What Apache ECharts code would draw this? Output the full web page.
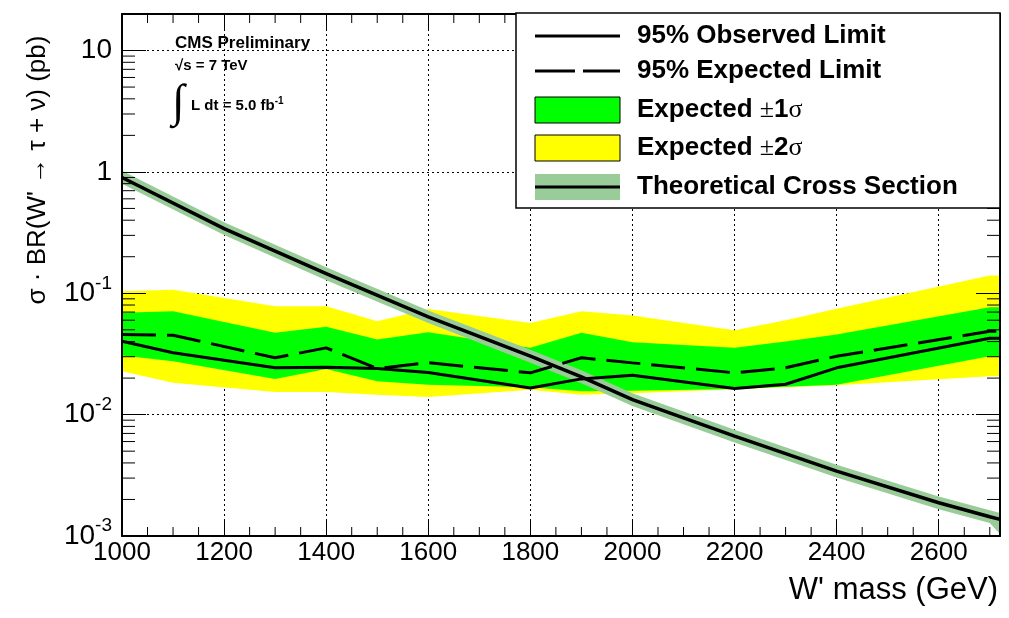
<!DOCTYPE html>
<html>
<head>
<meta charset="utf-8">
<script src="https://cdn.jsdelivr.net/npm/echarts@6/dist/echarts.min.js"></script>
<style>
    html, body { margin: 0; padding: 0; background: #fff; }
    #contain { width: 1009px; height: 618px; }
</style>
</head>
<body>
<div id="contain"></div>
<script>
/* W' mass points (GeV) */
var massPts = [1000, 1100, 1300, 1400, 1500, 1600, 1800, 1900, 2000, 2200, 2300, 2400, 2700, 2720];
/* 95% CL limits (pb) */
var observed = [0.0402, 0.0323, 0.0243, 0.0246, 0.0240, 0.0222, 0.0166, 0.0197, 0.0211, 0.0164, 0.0178, 0.0243, 0.0426, 0.0426];
var expected = [0.0457, 0.0451, 0.0294, 0.0355, 0.0240, 0.0268, 0.0221, 0.0294, 0.0267, 0.0221, 0.0243, 0.0303, 0.0486, 0.0488];
var oneSigHi = [0.0690, 0.0711, 0.0472, 0.0529, 0.0416, 0.0477, 0.0355, 0.0472, 0.0395, 0.0355, 0.0400, 0.0457, 0.0767, 0.0767];
var oneSigLo = [0.0307, 0.0275, 0.0197, 0.0238, 0.0188, 0.0176, 0.0168, 0.0156, 0.0157, 0.0163, 0.0170, 0.0176, 0.0303, 0.0303];
var twoSigHi = [0.104, 0.107, 0.0781, 0.0781, 0.0588, 0.0743, 0.0570, 0.0710, 0.0656, 0.0496, 0.0600, 0.0744, 0.140, 0.140];
var twoSigLo = [0.0228, 0.0183, 0.0154, 0.0154, 0.0146, 0.0140, 0.0160, 0.0146, 0.0150, 0.0162, 0.0168, 0.0175, 0.0207, 0.0207];
/* theoretical cross section */
var thMass = [1000, 1200, 1400, 1600, 1800, 1900, 2000, 2200, 2400, 2600, 2700, 2720];
var thXsec = [0.90, 0.341, 0.145, 0.064, 0.0303, 0.0205, 0.0133, 0.00664, 0.00342, 0.00188, 0.00144, 0.00137];
var thHi = [1.02, 0.385, 0.164, 0.072, 0.0342, 0.0232, 0.0150, 0.00750, 0.00386, 0.00212, 0.00163, 0.00155];
var thLo = [0.80, 0.302, 0.128, 0.057, 0.0268, 0.0181, 0.0118, 0.00588, 0.00303, 0.00166, 0.00128, 0.00104];
/* axis ticks */
var xMinorTicks = [1050, 1100, 1150, 1250, 1300, 1350, 1450, 1500, 1550, 1650, 1700, 1750, 1850, 1900, 1950,
    2050, 2100, 2150, 2250, 2300, 2350, 2450, 2500, 2550, 2650, 2700];
var decades = [0.001, 0.01, 0.1, 1, 10];
var minorSteps = [2, 3, 4, 5, 6, 7, 8, 9];

var FONT = 'Liberation Sans, Arial, sans-serif';
var yMinorTicks = [];
decades.forEach(function (d) {
    minorSteps.forEach(function (s) {
        if (d * s < 20) yMinorTicks.push(+(d * s).toPrecision(3));
    });
});

function pairs(xs, ys) {
    return xs.map(function (x, i) { return [x, ys[i]]; });
}

/* filled band between two curves */
function band(name, xs, lo, hi, color, z) {
    return {
        name: name,
        type: 'custom',
        z: z,
        silent: true,
        clip: true,
        data: xs.map(function (x, i) { return [x, lo[i], hi[i]]; }),
        encode: {x: 0, y: [1, 2]},
        renderItem: function (params, api) {
            if (params.dataIndex !== 0) return;
            var pts = [];
            for (var i = 0; i < xs.length; i++) pts.push(api.coord([xs[i], hi[i]]));
            for (var j = xs.length - 1; j >= 0; j--) pts.push(api.coord([xs[j], lo[j]]));
            return {type: 'polygon', shape: {points: pts}, style: {fill: color}};
        }
    };
}

/* minor ticks, drawn on both sides of the frame */
function minorTicks(vals, isY) {
    return {
        type: 'custom',
        z: 11,
        silent: true,
        data: vals.map(function (v) { return isY ? [1000, v] : [v, 0.001]; }),
        renderItem: function (params, api) {
            var cs = params.coordSys;
            var p = api.coord([api.value(0), api.value(1)]);
            var st = {stroke: '#000', lineWidth: 1};
            if (isY) {
                return {type: 'group', children: [
                    {type: 'line', shape: {x1: cs.x, y1: p[1], x2: cs.x + 13, y2: p[1]}, style: st},
                    {type: 'line', shape: {x1: cs.x + cs.width - 13, y1: p[1], x2: cs.x + cs.width, y2: p[1]}, style: st}
                ]};
            }
            return {type: 'group', children: [
                {type: 'line', shape: {x1: p[0], y1: cs.y + cs.height, x2: p[0], y2: cs.y + cs.height - 9}, style: st},
                {type: 'line', shape: {x1: p[0], y1: cs.y, x2: p[0], y2: cs.y + 9}, style: st}
            ]};
        }
    };
}

function yLabel(v) {
    var e = Math.round(Math.log(v) / Math.LN10);
    if (Math.abs(Math.log(v) / Math.LN10 - e) > 1e-6) return '';
    if (e === 0) return '{m|1}';
    if (e === 1) return '{m|10}';
    return '{m|10}{e|' + e + '}';
}

var frameX = {
    type: 'value', min: 1000, max: 2720, interval: 200, z: 10,
    axisLine: {show: true, lineStyle: {color: '#000', width: 2}},
    axisTick: {show: true, inside: true, length: 16, lineStyle: {color: '#000', width: 1}},
    splitLine: {show: false}
};
var frameY = {
    type: 'log', min: 0.001, max: 20, z: 10,
    axisLine: {show: true, lineStyle: {color: '#000', width: 2}},
    axisTick: {show: true, inside: true, length: 24, lineStyle: {color: '#000', width: 1}},
    splitLine: {show: false}
};

var myChart = echarts.init(document.getElementById('contain'));
myChart.setOption({
    animation: false,
    backgroundColor: '#fff',
    grid: {left: 122, right: 9, top: 14, bottom: 82},
    xAxis: [
        echarts.util.merge({
            position: 'bottom',
            axisLabel: {
                color: '#000', fontFamily: FONT, fontSize: 26, margin: 4,
                formatter: function (v) { return v % 200 === 0 ? String(v) : ''; }
            }
        }, frameX, true),
        echarts.util.merge({position: 'top', axisLabel: {show: false}}, frameX, true),
        {
            type: 'value', min: 1000, max: 2720, interval: 200, position: 'bottom', z: 0,
            axisLine: {show: false}, axisTick: {show: false}, axisLabel: {show: false},
            splitLine: {show: true, lineStyle: {color: '#000', width: 1, type: [2, 3]}}
        }
    ],
    yAxis: [
        echarts.util.merge({
            position: 'left',
            axisLabel: {
                color: '#000', fontFamily: FONT, margin: 10, formatter: yLabel,
                rich: {
                    m: {fontSize: 28, fontFamily: FONT, color: '#000'},
                    e: {fontSize: 19, fontFamily: FONT, color: '#000', padding: [0, 0, 20, 0]}
                }
            }
        }, frameY, true),
        echarts.util.merge({position: 'right', axisLabel: {show: false}}, frameY, true),
        {
            type: 'log', min: 0.001, max: 20, position: 'left', z: 0,
            axisLine: {show: false}, axisTick: {show: false}, axisLabel: {show: false},
            splitLine: {show: true, lineStyle: {color: '#000', width: 1, type: [2, 3]}}
        }
    ],
    series: [
        band('Expected ±2σ', massPts, twoSigLo, twoSigHi, '#ffff00', 2),
        band('Expected ±1σ', massPts, oneSigLo, oneSigHi, '#00ff00', 3),
        band('Theory band', thMass, thLo, thHi, '#99cc99', 4),
        {
            name: 'Theoretical Cross Section', type: 'line', z: 5, symbol: 'none', silent: true,
            data: pairs(thMass, thXsec),
            lineStyle: {color: '#000', width: 3.5}
        },
        {
            name: '95% Expected Limit', type: 'line', z: 6, symbol: 'none', silent: true,
            data: pairs(massPts, expected),
            lineStyle: {color: '#000', width: 3, type: [34, 11]}
        },
        {
            name: '95% Observed Limit', type: 'line', z: 7, symbol: 'none', silent: true,
            data: pairs(massPts, observed),
            lineStyle: {color: '#000', width: 3}
        },
        minorTicks(yMinorTicks, true),
        minorTicks(xMinorTicks, false)
    ],
    graphic: [
        /* axis titles */
        {
            type: 'text', x: 38, y: 170, rotation: Math.PI / 2, z: 100,
            style: {
                text: 'σ · BR(W\' → τ + ν) (pb)', font: '26px ' + FONT, fill: '#000',
                align: 'center', verticalAlign: 'middle', textAlign: 'center', textVerticalAlign: 'middle'
            }
        },
        {
            type: 'text', x: 998, y: 590, z: 100,
            style: {
                text: 'W\' mass (GeV)', font: '31px ' + FONT, fill: '#000',
                align: 'right', verticalAlign: 'middle', textAlign: 'right', textVerticalAlign: 'middle'
            }
        },
        /* CMS label */
        {
            type: 'text', x: 175, y: 43, z: 100,
            style: {text: 'CMS Preliminary', font: 'bold 17px ' + FONT, fill: '#000', verticalAlign: 'middle', textVerticalAlign: 'middle'}
        },
        {
            type: 'text', x: 175, y: 66, z: 100,
            style: {text: '√s = 7 TeV', font: 'bold 15px ' + FONT, fill: '#000', verticalAlign: 'middle', textVerticalAlign: 'middle'}
        },
        {
            type: 'text', x: 172, y: 104, z: 100,
            style: {text: '∫', font: '46px Liberation Serif, serif', fill: '#000', verticalAlign: 'middle', textVerticalAlign: 'middle'}
        },
        {
            type: 'text', x: 191, y: 106, z: 100,
            style: {
                text: '{a|L dt = 5.0 fb}{s|-1}', fill: '#000', verticalAlign: 'middle', textVerticalAlign: 'middle',
                rich: {
                    a: {font: 'bold 15px ' + FONT, fill: '#000'},
                    s: {font: 'bold 10px ' + FONT, fill: '#000', padding: [0, 0, 10, 0]}
                }
            }
        },
        /* legend box */
        {
            type: 'group', z: 100,
            children: [
                {type: 'rect', shape: {x: 516, y: 13, width: 484, height: 195}, style: {fill: '#fff', stroke: '#000', lineWidth: 1.5}, z: 100},
                {type: 'line', shape: {x1: 535, y1: 36, x2: 620, y2: 36}, style: {stroke: '#000', lineWidth: 3}, z: 101},
                {type: 'line', shape: {x1: 535, y1: 71, x2: 620, y2: 71}, style: {stroke: '#000', lineWidth: 3, lineDash: [40, 8]}, z: 101},
                {type: 'rect', shape: {x: 535, y: 97, width: 85, height: 26}, style: {fill: '#00ff00', stroke: '#000', lineWidth: 1}, z: 101},
                {type: 'rect', shape: {x: 535, y: 135, width: 85, height: 26}, style: {fill: '#ffff00', stroke: '#000', lineWidth: 1}, z: 101},
                {type: 'rect', shape: {x: 535, y: 174, width: 85, height: 26}, style: {fill: '#99cc99'}, z: 101},
                {type: 'line', shape: {x1: 535, y1: 187, x2: 620, y2: 187}, style: {stroke: '#000', lineWidth: 3}, z: 102},
                {type: 'text', x: 637, y: 36, z: 101, style: {text: '95% Observed Limit', font: 'bold 26px ' + FONT, fill: '#000', verticalAlign: 'middle', textVerticalAlign: 'middle'}},
                {type: 'text', x: 637, y: 71, z: 101, style: {text: '95% Expected Limit', font: 'bold 26px ' + FONT, fill: '#000', verticalAlign: 'middle', textVerticalAlign: 'middle'}},
                {
                    type: 'text', x: 637, y: 110, z: 101,
                    style: {
                        text: '{b|Expected }{s|±}{b|1}{s|σ}', verticalAlign: 'middle', textVerticalAlign: 'middle',
                        rich: {b: {font: 'bold 26px ' + FONT, fill: '#000'}, s: {font: '26px Liberation Serif, serif', fill: '#000'}}
                    }
                },
                {
                    type: 'text', x: 637, y: 148, z: 101,
                    style: {
                        text: '{b|Expected }{s|±}{b|2}{s|σ}', verticalAlign: 'middle', textVerticalAlign: 'middle',
                        rich: {b: {font: 'bold 26px ' + FONT, fill: '#000'}, s: {font: '26px Liberation Serif, serif', fill: '#000'}}
                    }
                },
                {type: 'text', x: 637, y: 187, z: 101, style: {text: 'Theoretical Cross Section', font: 'bold 26px ' + FONT, fill: '#000', verticalAlign: 'middle', textVerticalAlign: 'middle'}}
            ]
        }
    ]
});
</script>
</body>
</html>
